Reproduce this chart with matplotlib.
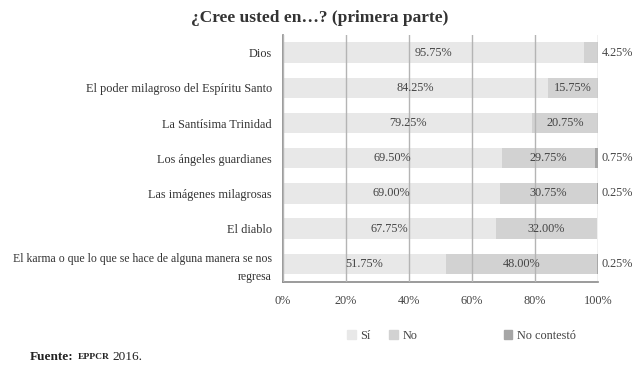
import matplotlib.pyplot as plt
from matplotlib.patches import Patch

plt.rcParams['font.family'] = ['Liberation Serif', 'DejaVu Serif']

categorias = ['Dios', 'El poder milagroso del Espíritu Santo', 'La Santísima Trinidad',
              'Los ángeles guardianes', 'Las imágenes milagrosas', 'El diablo',
              'El karma o que lo que se hace de alguna manera se nos\nregresa']
si = [95.75, 84.25, 79.25, 69.50, 69.00, 67.75, 51.75]
no = [4.25, 15.75, 20.75, 29.75, 30.75, 32.00, 48.00]
no_contesto = [0, 0, 0, 0.75, 0.25, 0, 0.25]

c_si = '#e8e8e8'
c_no = '#d2d2d2'
c_nc = '#a6a6a6'
fs = 8.8

fig = plt.figure(figsize=(6.4, 3.68), dpi=100)
ax = fig.add_axes([0.442, 0.235, 0.492, 0.67])

y = list(range(len(categorias)))
left_no = si
left_nc = [a + b for a, b in zip(si, no)]
ax.barh(y, si, height=0.58, color=c_si, zorder=1)
ax.barh(y, no, left=left_no, height=0.58, color=c_no, zorder=1)
ax.barh(y, no_contesto, left=left_nc, height=0.58, color=c_nc, zorder=1)

for i in y:
    ax.text(si[i] / 2, i, f'{si[i]:.2f}%', ha='center', va='center', fontsize=fs, color='#444444', zorder=3)
    if no[i] < 8:
        ax.text(101.3, i, f'{no[i]:.2f}%', ha='left', va='center', fontsize=fs, color='#444444')
    else:
        ax.text(si[i] + no[i] / 2, i, f'{no[i]:.2f}%', ha='center', va='center', fontsize=fs,
                color='#444444', zorder=3)
    if no_contesto[i] > 0:
        ax.text(101.3, i, f'{no_contesto[i]:.2f}%', ha='left', va='center', fontsize=fs, color='#444444')

ax.set_xlim(0, 100)
ax.set_ylim(6.5, -0.5)
ax.set_yticks(y)
ax.set_yticklabels(categorias, fontsize=fs, color='#333333', linespacing=1.6)
ax.get_yticklabels()[-1].set_fontsize(8.5)
ax.set_xticks([0, 20, 40, 60, 80, 100])
ax.set_xticklabels(['0%', '20%', '40%', '60%', '80%', '100%'], fontsize=fs, color='#444444')
ax.tick_params(length=0, pad=8)
ax.tick_params(axis='x', pad=10)
ax.grid(axis='x', color='#b4b4b4', linewidth=1, zorder=2)
ax.set_axisbelow(False)
for s in ['top', 'right']:
    ax.spines[s].set_visible(False)
ax.spines['left'].set_color('#8a8a8a')
ax.spines['bottom'].set_color('#8a8a8a')
ax.spines['left'].set_linewidth(1.2)
ax.spines['bottom'].set_linewidth(1.2)

fig.text(0.5, 0.95, '¿Cree usted en…? (primera parte)', ha='center', va='center',
         fontsize=12.5, fontweight='bold', color='#333333')

leg1 = fig.legend(handles=[Patch(color=c_si, label='Sí'), Patch(color=c_no, label='No')],
                  loc='center left', bbox_to_anchor=(0.525, 0.088), ncol=2, frameon=False,
                  fontsize=fs, handlelength=0.7, handleheight=0.7, handletextpad=0.4,
                  columnspacing=1.5, labelcolor='#444444')
leg2 = fig.legend(handles=[Patch(color=c_nc, label='No contestó')],
                  loc='center left', bbox_to_anchor=(0.77, 0.088), frameon=False,
                  fontsize=fs, handlelength=0.7, handleheight=0.7, handletextpad=0.4,
                  labelcolor='#444444')

t1 = fig.text(0.047, 0.031, 'Fuente:', fontsize=9.5, fontweight='bold', color='#222222', va='center')
fig.canvas.draw()
r = fig.canvas.get_renderer()
bb = t1.get_window_extent(r)
x2 = (bb.x1 + 4) / fig.bbox.width
t2 = fig.text(x2, 0.031, 'EPPCR', fontsize=6.8, fontweight='bold', color='#222222', va='center')
bb2 = t2.get_window_extent(r)
x3 = (bb2.x1 + 3) / fig.bbox.width
fig.text(x3, 0.031, '2016.', fontsize=9.5, color='#222222', va='center')

fig.savefig('out.png', dpi=100)
